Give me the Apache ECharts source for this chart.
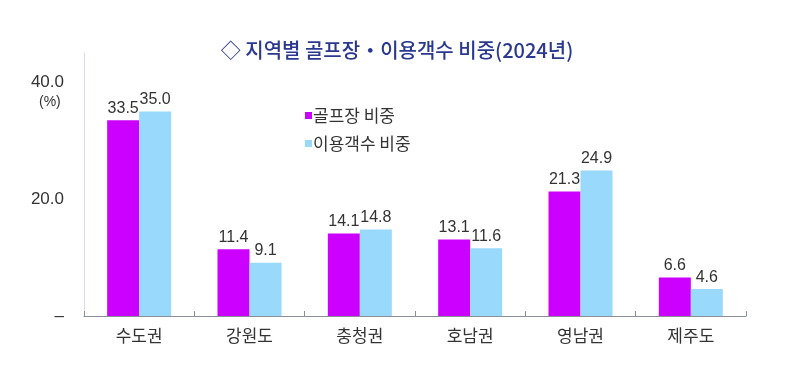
<!DOCTYPE html>
<html><head><meta charset="utf-8">
<script src="https://cdn.jsdelivr.net/npm/echarts@6/dist/echarts.min.js"></script>
<style>html,body{margin:0;padding:0;background:#fff}#c{width:801px;height:381px}</style>
</head><body><div id="c"></div>
<script>
const categories = ['수도권','강원도','충청권','호남권','영남권','제주도'];
const golfShare = [33.5, 11.4, 14.1, 13.1, 21.3, 6.6];
const visitorShare = [35.0, 9.1, 14.8, 11.6, 24.9, 4.6];
const seriesNames = ['골프장 비중','이용객수 비중'];
const yTicks = [0, 20, 40];

const FONT = '"Liberation Sans", "Noto Sans CJK KR", sans-serif';
const KFONT = '"Noto Sans CJK KR", sans-serif';
const chart = echarts.init(document.getElementById('c'));
const labelCfg = {show:true, position:'top', distance:4, color:'#333', fontSize:16, fontFamily:FONT, formatter: p => p.value.toFixed(1)};
chart.setOption({
  animation:false,
  title:{text:'◇ 지역별 골프장・이용객수 비중(2024년)', left:392, textAlign:'center', top:35,
    textStyle:{color:'#2A3890', fontSize:20, fontWeight:500, fontFamily:KFONT}},
  legend:{orient:'vertical', left:300, top:102, itemWidth:7, itemHeight:7, itemGap:11,
    icon:'rect', textStyle:{fontSize:17, color:'#333', fontFamily:KFONT, padding:[0,0,0,-4]},
    data:seriesNames},
  grid:{left:84, right:55, top:53, bottom:65, containLabel:false},
  xAxis:{type:'category', data:categories,
    axisLine:{lineStyle:{color:'#8a8f99', width:1}},
    axisTick:{show:true, length:5, lineStyle:{color:'#8a8f99'}, inside:true},
    axisLabel:{fontSize:17, color:'#333', margin:11, fontFamily:KFONT}},
  yAxis:{type:'value', min:0, max:45, interval:20,
    axisLine:{show:true, lineStyle:{color:'#d5dde6'}},
    axisTick:{show:false}, splitLine:{show:false},
    axisLabel:{fontSize:17, color:'#333', margin:20, fontFamily:FONT, showMaxLabel:false,
      formatter: v => yTicks.indexOf(v) < 0 ? '' : (v === 0 ? '–' : v.toFixed(1))}},
  graphic:[{type:'text', left:39, top:95, style:{text:'(%)', fontSize:14, fill:'#333', font:'14px "Liberation Sans", sans-serif'}}],
  series:[
    {name:seriesNames[0], type:'bar', data:golfShare, barWidth:32, barGap:'0%',
      itemStyle:{color:'#CC00FF'}, label:labelCfg},
    {name:seriesNames[1], type:'bar', data:visitorShare, barWidth:32,
      itemStyle:{color:'#99D9FC'}, label:labelCfg}
  ]
});
</script></body></html>
